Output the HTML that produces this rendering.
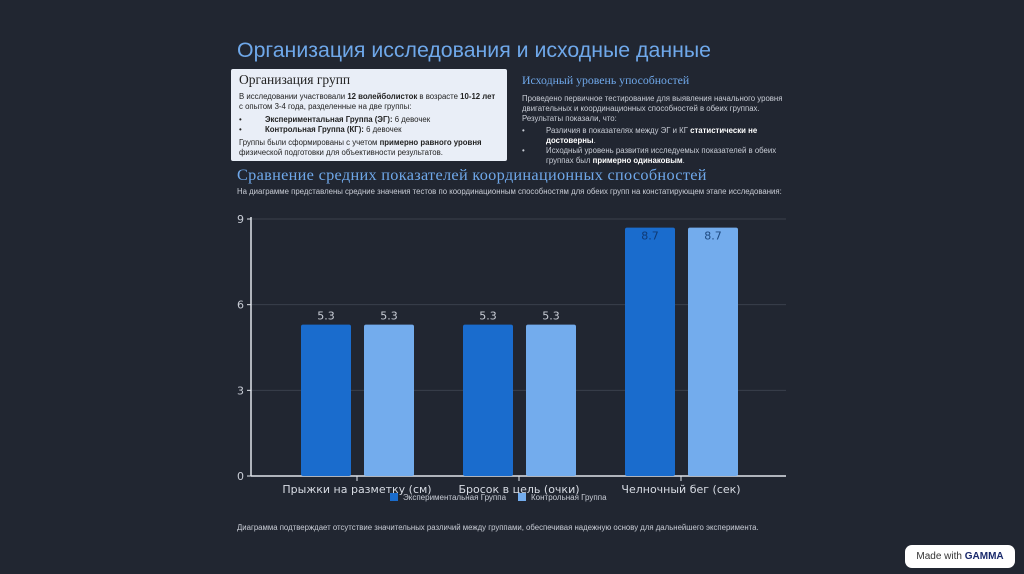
<!DOCTYPE html>
<html><head><meta charset="utf-8">
<style>
body{margin:0;width:1024px;height:574px;background:#212631;font-family:"Liberation Sans","Noto Sans CJK SC",sans-serif;position:relative;overflow:hidden;color:#d8dce4}
.t{position:absolute}
h1{position:absolute;left:237px;top:38px;margin:0;font:normal 21.3px "Liberation Sans",sans-serif;color:#6fa8ea}
.box{position:absolute;left:231px;top:69px;width:276px;height:92px;background:#e9eef7;border-radius:2px;color:#222;font-size:7.8px;line-height:10px}
.box h3{margin:3px 0 0 8px;font:normal 13.5px "Liberation Serif",serif;color:#222}
.box p{margin:4px 8px 0 8px}
.li{position:relative;padding-left:26px}
.li:before{content:"•";position:absolute;left:0}
.right{position:absolute;left:522px;top:73px;width:270px;font-size:7.8px;line-height:10px;color:#c9cdd6}
.right h3{margin:0;font:normal 11.8px "Liberation Serif",serif;color:#6fa8ea}
.right p{margin:6px 0 0 0}
.right .li{padding-left:24px;margin-left:0}
b{font-weight:bold}
.right b{color:#fff}
h2{position:absolute;left:237px;top:165px;margin:0;font:normal 16.3px "Liberation Serif",serif;color:#6fa8ea;letter-spacing:0.3px}
</style></head><body>
<h1>Организация исследования и исходные данные</h1>
<div class="box">
<h3>Организация групп</h3>
<p>В исследовании участвовали <b>12 волейболисток</b> в возрасте <b>10-12&nbsp;лет</b> с опытом 3-4 года, разделенные на две группы:</p>
<div class="li" style="margin:3px 8px 0 8px"><b>Экспериментальная Группа (ЭГ):</b> 6 девочек</div>
<div class="li" style="margin:0 8px"><b>Контрольная Группа (КГ):</b> 6 девочек</div>
<p style="margin-top:3px">Группы были сформированы с учетом <b>примерно равного уровня</b> физической подготовки для объективности результатов.</p>
</div>
<div class="right">
<h3>Исходный уровень упособностей</h3>
<p>Проведено первичное тестирование для выявления начального уровня двигательных и координационных способностей в обеих группах. Результаты показали, что:</p>
<div class="li" style="margin-top:2px">Различия в показателях между ЭГ и КГ <b>статистически не достоверны</b>.</div>
<div class="li">Исходный уровень развития исследуемых показателей в обеих группах был <b>примерно одинаковым</b>.</div>
</div>
<h2>Сравнение средних показателей координационных способностей</h2>
<div class="t" style="left:237px;top:187px;font-size:7.8px;color:#c9cdd6">На диаграмме представлены средние значения тестов по координационным способностям для обеих групп на констатирующем этапе исследования:</div>
<svg id="chart" class="t" style="left:0;top:0" width="1024" height="574"></svg>
<div class="t" style="left:237px;top:523px;font-size:7.8px;color:#c9cdd6">Диаграмма подтверждает отсутствие значительных различий между группами, обеспечивая надежную основу для дальнейшего эксперимента.</div>
<div class="t" style="left:905px;top:545px;width:110px;height:23px;background:#fff;border-radius:7px;font-size:10px;color:#333;line-height:23px;text-align:center">Made with <b style="color:#1a2a6c">GAMMA</b></div>
<script>
const categories=["Прыжки на разметку (см)","Бросок в цель (очки)","Челночный бег (сек)"];
const egValues=[5.3,5.3,8.7];
const kgValues=[5.3,5.3,8.7];
const yTicks=[0,3,6,9];
const seriesNames=["Экспериментальная Группа","Контрольная Группа"];
const svg=document.getElementById('chart');
const NS="http://www.w3.org/2000/svg";
const x0=251,x1=786,yb=476,yt=219,yMax=9;
const y=v=>yb-(v/yMax)*(yb-yt);
const xc=i=>357+i*162;
function mk(t,a){const e=document.createElementNS(NS,t);for(const k in a)e.setAttribute(k,a[k]);svg.appendChild(e);return e;}
yTicks.forEach(v=>{
 if(v>0){const g=mk('line',{x1:x0,x2:x1,y1:y(v),y2:y(v),stroke:'#3a404c','stroke-width':1});}
 mk('line',{x1:x0-4,x2:x0,y1:y(v),y2:y(v),stroke:'#e0e4ea'});
 const t=mk('text',{x:x0-7,y:y(v)+4,'text-anchor':'end','font-size':11,fill:'#c9cdd6','font-family':'DejaVu Sans, sans-serif'});t.textContent=v;
 
});
const ax=mk('line',{x1:x0,x2:x0,y1:yt-2,y2:yb,stroke:'#e0e4ea','stroke-width':1.5});

const bx=mk('line',{x1:x0,x2:x1,y1:yb,y2:yb,stroke:'#e0e4ea','stroke-width':1.5});

const colors=['#1a6ccd','#73aced'];
const labelColors=['#0f3a75','#1f4a80'];
categories.forEach((c,i)=>{
 mk('line',{x1:xc(i),x2:xc(i),y1:yb,y2:yb+5,stroke:'#e0e4ea'});
 const t=mk('text',{x:xc(i),y:yb+17,'text-anchor':'middle','font-size':11,fill:'#d8dce4','font-family':'DejaVu Sans, sans-serif'});t.textContent=c;
 
 [egValues,kgValues].forEach((vals,s)=>{
  const bxl=xc(i)+(s===0?-56:7);
  const r=mk('rect',{x:bxl,y:y(vals[i]),width:50,height:yb-y(vals[i]),fill:colors[s],rx:2});
  
  const inside=vals[i]>8;
  const lt=mk('text',{x:bxl+25,y:inside?y(vals[i])+12:y(vals[i])-5,'text-anchor':'middle','font-size':11,fill:inside?labelColors[s]:'#c9cdd6','font-family':'DejaVu Sans, sans-serif'});lt.textContent=vals[i];
  
 });
});
[[390,seriesNames[0]],[518,seriesNames[1]]].forEach(([lx,n],s)=>{
 const r=mk('rect',{x:lx,y:493,width:8,height:8,fill:colors[s]});
 
 const t=mk('text',{x:lx+13,y:500,'font-size':8,fill:'#c9cdd6','font-family':'Liberation Sans, sans-serif'});t.textContent=n;
 
});
</script>
</body></html>
